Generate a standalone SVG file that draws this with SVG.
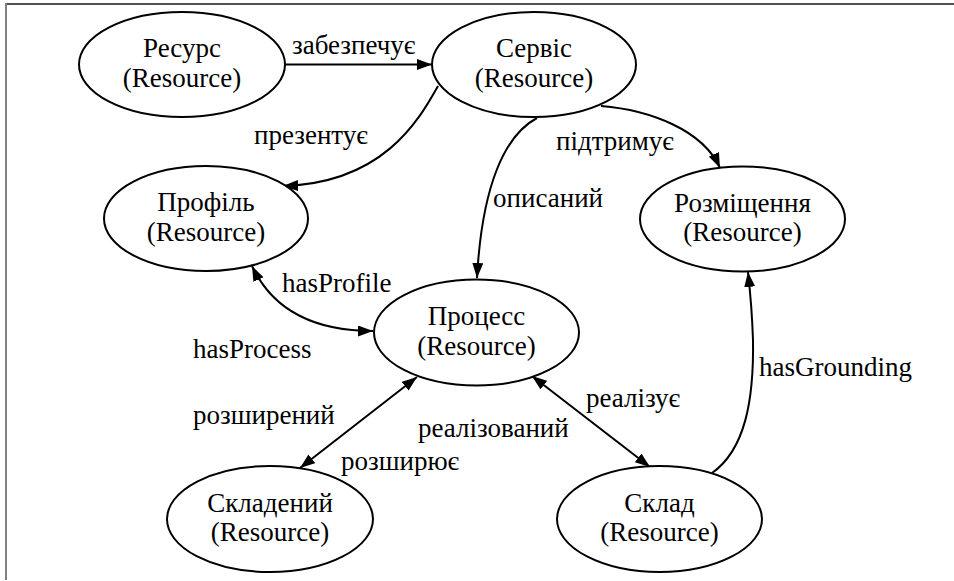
<svg xmlns="http://www.w3.org/2000/svg" width="954" height="581" viewBox="0 0 954 581">
<defs>
<marker id="arr" viewBox="0 0 15 11" refX="15" refY="5.5" markerWidth="15" markerHeight="11" markerUnits="userSpaceOnUse" orient="auto-start-reverse">
<path d="M0,0 L15,5.5 L0,11 z" fill="#000"/>
</marker>
</defs>
<rect width="954" height="581" fill="#fff"/>
<line x1="5" y1="4" x2="954" y2="4" stroke="#505050" stroke-width="2"/>
<line x1="6" y1="3" x2="6" y2="580" stroke="#808080" stroke-width="2"/>
<g id="connectors" fill="none" stroke="#000" stroke-width="2">
<path d="M285,64.5 L432,64.5" marker-end="url(#arr)"/>
<path d="M438,86 C418,122 382,183 283,186" marker-end="url(#arr)"/>
<path d="M537,118 C505,135 482,185 477,278" marker-end="url(#arr)"/>
<path d="M601,106 C650,110 703,130 720,168" marker-end="url(#arr)"/>
<path d="M252,266 C268,300 300,331 373,331" marker-start="url(#arr)" marker-end="url(#arr)"/>
<path d="M417,377 L300,468" marker-start="url(#arr)" marker-end="url(#arr)"/>
<path d="M532,376 L650,467" marker-start="url(#arr)" marker-end="url(#arr)"/>
<path d="M712,473 C745,450 754,400 753,340 C752,310 750,290 748,272" marker-end="url(#arr)"/>
</g>
<g id="edge-labels">
<text x="292" y="54" font-size="27" font-family="Liberation Serif">забезпечує</text>
<text x="254" y="144" font-size="27" font-family="Liberation Serif">презентує</text>
<text x="493" y="207" font-size="27" font-family="Liberation Serif">описаний</text>
<text x="556" y="150" font-size="27" font-family="Liberation Serif">підтримує</text>
<text x="282" y="292" font-size="27" font-family="Liberation Serif">hasProfile</text>
<text x="193" y="358" font-size="27" font-family="Liberation Serif">hasProcess</text>
<text x="193" y="424" font-size="27" font-family="Liberation Serif">розширений</text>
<text x="341" y="470" font-size="27" font-family="Liberation Serif">розширює</text>
<text x="586" y="407" font-size="27" font-family="Liberation Serif">реалізує</text>
<text x="418" y="437" font-size="27" font-family="Liberation Serif">реалізований</text>
<text x="759" y="376" font-size="27" font-family="Liberation Serif">hasGrounding</text>
</g>
<g id="node-resurs">
<ellipse cx="182" cy="64.5" rx="103" ry="52.5" fill="#fff" stroke="#000" stroke-width="2"/>
<text x="182" y="57" text-anchor="middle" font-size="27" font-family="Liberation Serif">Ресурс</text>
<text x="182" y="86.5" text-anchor="middle" font-size="27" font-family="Liberation Serif">(Resource)</text>
</g>
<g id="node-servis">
<ellipse cx="534" cy="64.5" rx="102" ry="52.5" fill="#fff" stroke="#000" stroke-width="2"/>
<text x="534" y="57" text-anchor="middle" font-size="27" font-family="Liberation Serif">Сервіс</text>
<text x="534" y="86.5" text-anchor="middle" font-size="27" font-family="Liberation Serif">(Resource)</text>
</g>
<g id="node-profil">
<ellipse cx="206" cy="218.5" rx="102" ry="52.5" fill="#fff" stroke="#000" stroke-width="2"/>
<text x="206" y="211" text-anchor="middle" font-size="27" font-family="Liberation Serif">Профіль</text>
<text x="206" y="240.5" text-anchor="middle" font-size="27" font-family="Liberation Serif">(Resource)</text>
</g>
<g id="node-rozmishchennia">
<ellipse cx="742.5" cy="219" rx="102.5" ry="52.5" fill="#fff" stroke="#000" stroke-width="2"/>
<text x="742.5" y="211.5" text-anchor="middle" font-size="27" font-family="Liberation Serif">Розміщення</text>
<text x="742.5" y="241" text-anchor="middle" font-size="27" font-family="Liberation Serif">(Resource)</text>
</g>
<g id="node-protsess">
<ellipse cx="476.5" cy="332.5" rx="102.5" ry="53" fill="#fff" stroke="#000" stroke-width="2"/>
<text x="476.5" y="325" text-anchor="middle" font-size="27" font-family="Liberation Serif">Процесс</text>
<text x="476.5" y="354.5" text-anchor="middle" font-size="27" font-family="Liberation Serif">(Resource)</text>
</g>
<g id="node-skladenyi">
<ellipse cx="270" cy="519" rx="103" ry="53" fill="#fff" stroke="#000" stroke-width="2"/>
<text x="270" y="511.5" text-anchor="middle" font-size="27" font-family="Liberation Serif">Складений</text>
<text x="270" y="541" text-anchor="middle" font-size="27" font-family="Liberation Serif">(Resource)</text>
</g>
<g id="node-sklad">
<ellipse cx="659.5" cy="519" rx="102.5" ry="53" fill="#fff" stroke="#000" stroke-width="2"/>
<text x="659.5" y="511.5" text-anchor="middle" font-size="27" font-family="Liberation Serif">Склад</text>
<text x="659.5" y="541" text-anchor="middle" font-size="27" font-family="Liberation Serif">(Resource)</text>
</g>
</svg>
